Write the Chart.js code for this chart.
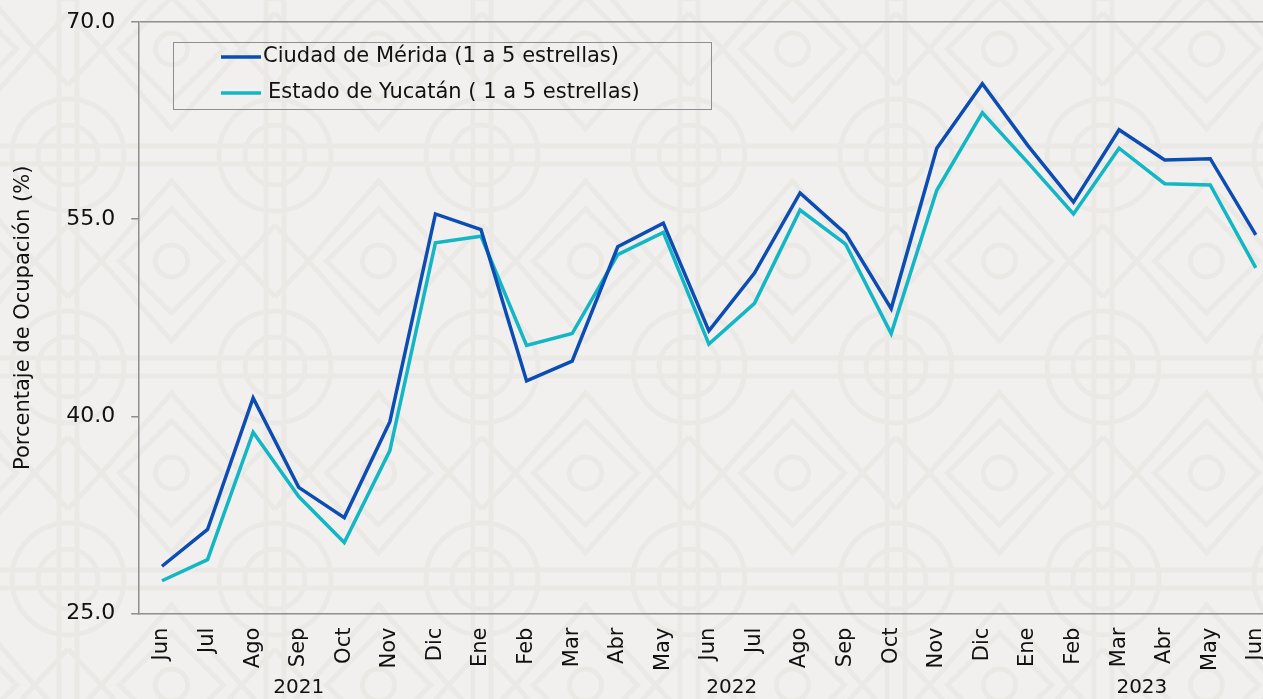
<!DOCTYPE html>
<html>
<head>
<meta charset="utf-8">
<script src="https://cdn.jsdelivr.net/npm/chart.js@4"></script>
<style>
  html, body { margin: 0; padding: 0; overflow: hidden; background-color: #f1f0ee; }
  #wrap { width: 1287px; height: 699px; position: relative; }
</style>
</head>
<body>
<div id="wrap"><canvas id="ocupacionChart"></canvas></div>
<script>
// meses de jun 2021 a jun 2023
const months = ['Jun','Jul','Ago','Sep','Oct','Nov','Dic','Ene','Feb','Mar','Abr','May',
                'Jun','Jul','Ago','Sep','Oct','Nov','Dic','Ene','Feb','Mar','Abr','May','Jun'];
const merida = [28.6, 31.4, 41.4, 34.6, 32.3, 39.6, 55.4, 54.2, 42.7, 44.2, 52.9, 54.7,
                46.5, 50.9, 57.0, 53.9, 48.2, 60.4, 65.3, 60.6, 56.3, 61.8, 59.5, 59.6, 53.8];
const yucatan = [27.5, 29.1, 38.8, 33.9, 30.4, 37.4, 53.2, 53.7, 45.4, 46.3, 52.3, 54.0,
                 45.5, 48.6, 55.7, 53.1, 46.3, 57.2, 63.1, 59.3, 55.4, 60.4, 57.7, 57.6, 51.3];
const years = ['2021', '2022', '2023'];
const yearFirst = [0, 7, 19];
const yearLast = [6, 18, 24];
const yTicks = [25, 40, 55, 70];

const FONT = 'DejaVu Sans';
const AXIS_GRAY = '#8e8e8e';

// fondo decorativo tenue (circulos y rombos)
const tile = `<svg xmlns='http://www.w3.org/2000/svg' width='207' height='212'>
<g fill='none' stroke='#ebe9e6' stroke-width='5'>
<line x1='0' y1='9' x2='207' y2='9'/><line x1='0' y1='203' x2='207' y2='203'/>
<line x1='9' y1='0' x2='9' y2='212'/><line x1='198' y1='0' x2='198' y2='212'/>
<circle cx='0' cy='0' r='56'/><circle cx='207' cy='0' r='56'/><circle cx='0' cy='212' r='56'/><circle cx='207' cy='212' r='56'/>
<circle cx='0' cy='0' r='30'/><circle cx='207' cy='0' r='30'/><circle cx='0' cy='212' r='30'/><circle cx='207' cy='212' r='30'/>
<polygon points='103.5,26 173.5,106 103.5,186 33.5,106'/>
<polygon points='103.5,54 155.5,106 103.5,158 51.5,106'/>
<circle cx='103.5' cy='106' r='16'/>
<line x1='33.5' y1='106' x2='0' y2='70'/><line x1='173.5' y1='106' x2='207' y2='70'/>
<line x1='33.5' y1='106' x2='0' y2='142'/><line x1='173.5' y1='106' x2='207' y2='142'/>
</g></svg>`;
document.body.style.backgroundImage = 'url("data:image/svg+xml,' + encodeURIComponent(tile) + '")';
document.body.style.backgroundPosition = '68px 155px';

// leyenda dentro del area del grafico
const boxLegend = {
  id: 'boxLegend',
  afterDraw(chart) {
    const ctx = chart.ctx;
    const x = 173, y = 42, w = 538, h = 67;
    ctx.save();
    ctx.strokeStyle = AXIS_GRAY;
    ctx.lineWidth = 1;
    ctx.strokeRect(x + 0.5, y + 0.5, w, h);
    ctx.font = '21px ' + FONT;
    ctx.textBaseline = 'middle';
    chart.data.datasets.forEach((ds, i) => {
      const ly = y + 15 + i * 36;
      ctx.strokeStyle = ds.borderColor;
      ctx.lineWidth = 3.5;
      ctx.beginPath();
      ctx.moveTo(x + 48, ly);
      ctx.lineTo(x + 88, ly);
      ctx.stroke();
      ctx.fillStyle = '#111';
      ctx.fillText(ds.label, x + 90 + i * 5, ly);
    });
    ctx.restore();
  }
};

// años debajo de los meses
const yearLabels = {
  id: 'yearLabels',
  afterDraw(chart) {
    const ctx = chart.ctx;
    const xs = chart.scales.x;
    ctx.save();
    ctx.font = '20px ' + FONT;
    ctx.fillStyle = '#111';
    ctx.textAlign = 'center';
    ctx.textBaseline = 'middle';
    years.forEach((yr, i) => {
      const cx = (xs.getPixelForValue(yearFirst[i]) + xs.getPixelForValue(yearLast[i])) / 2;
      ctx.fillText(yr, cx, 688);
    });
    ctx.restore();
  }
};

const ctx = document.getElementById('ocupacionChart').getContext('2d');
const chart = new Chart(ctx, {
  type: 'line',
  data: {
    labels: months,
    datasets: [{
      label: 'Ciudad de Mérida (1 a 5 estrellas)',
      data: merida,
      borderColor: '#0b4db2',
      borderWidth: 3.5,
      pointRadius: 0,
      tension: 0
    }, {
      label: 'Estado de Yucatán ( 1 a 5 estrellas)',
      data: yucatan,
      borderColor: '#12b6c4',
      borderWidth: 3.5,
      pointRadius: 0,
      tension: 0
    }]
  },
  options: {
    responsive: true,
    maintainAspectRatio: false,
    animation: false,
    layout: { padding: { top: 22, bottom: 22, left: 11, right: 0 } },
    plugins: {
      legend: { display: false },
      tooltip: { enabled: false }
    },
    scales: {
      x: {
        offset: true,
        grid: { display: false },
        border: { display: true, color: AXIS_GRAY, width: 1.5 },
        ticks: {
          minRotation: 90,
          maxRotation: 90,
          autoSkip: false,
          color: '#111',
          padding: 6,
          font: { family: FONT, size: 21 }
        }
      },
      y: {
        min: 25,
        max: 70,
        afterBuildTicks: axis => { axis.ticks = yTicks.map(v => ({ value: v })); },
        afterFit: axis => { axis.paddingTop = 0; },
        grid: {
          drawOnChartArea: true,
          color: c => c.tick && c.tick.value === 70 ? AXIS_GRAY : 'rgba(0,0,0,0)',
          tickColor: AXIS_GRAY,
          tickLength: 8,
          lineWidth: 1.5
        },
        border: { display: true, color: AXIS_GRAY, width: 1.5 },
        title: {
          display: true,
          text: 'Porcentaje de Ocupación (%)',
          color: '#111',
          font: { family: FONT, size: 21 },
          padding: { top: 0, bottom: 14 }
        },
        ticks: {
          color: '#111',
          padding: 16,
          font: { family: FONT, size: 22 },
          callback: v => v.toFixed(1)
        }
      }
    }
  },
  plugins: [boxLegend, yearLabels]
});
</script>
</body>
</html>
